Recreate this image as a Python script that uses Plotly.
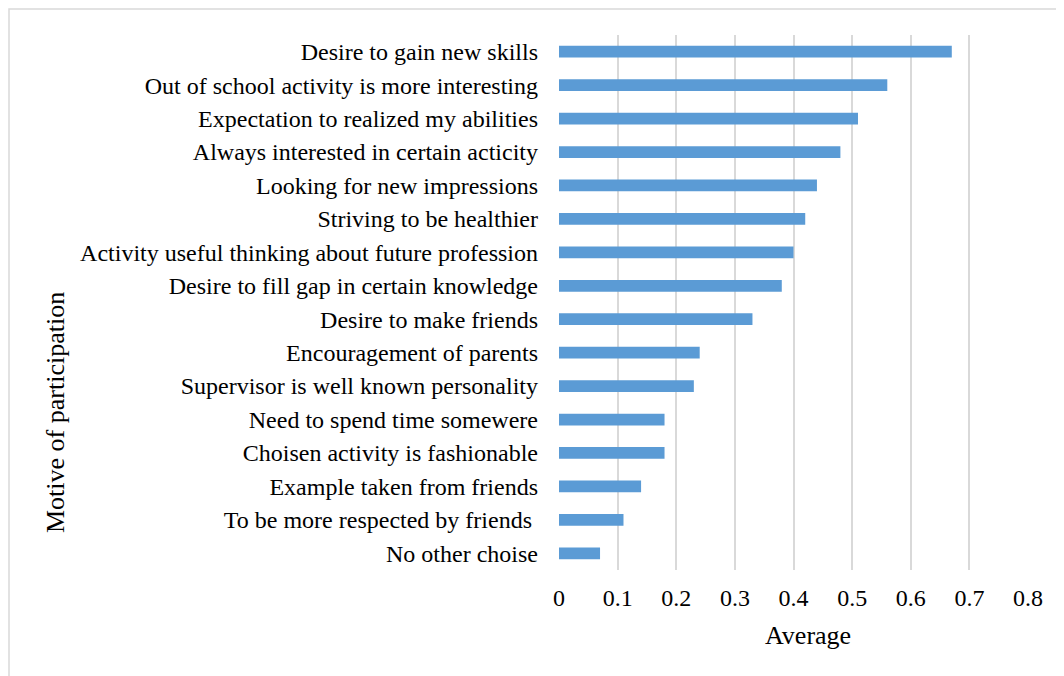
import plotly.graph_objects as go

categories = [
    "Desire to gain new skills",
    "Out of school activity is more interesting",
    "Expectation to realized my abilities",
    "Always interested in certain acticity",
    "Looking for new impressions",
    "Striving to be healthier",
    "Activity useful thinking about future profession",
    "Desire to fill gap in certain knowledge",
    "Desire to make friends",
    "Encouragement of parents",
    "Supervisor is well known personality",
    "Need to spend time somewere",
    "Choisen activity is fashionable",
    "Example taken from friends",
    "To be more respected by friends ",
    "No other choise",
]
averages = [0.67, 0.56, 0.51, 0.48, 0.44, 0.42, 0.40, 0.38, 0.33, 0.24, 0.23, 0.18, 0.18, 0.14, 0.11, 0.07]
x_ticks = [0, 0.1, 0.2, 0.3, 0.4, 0.5, 0.6, 0.7, 0.8]
x_tick_labels = ["0", "0.1", "0.2", "0.3", "0.4", "0.5", "0.6", "0.7", "0.8"]

FONT = "Liberation Serif, Times New Roman, serif"

W, H = 1056, 668
L, R, T, B = 551, 36, 27, 106
PW = W - L - R
PH = H - T - B


def px(xf):
    return (xf - L) / PW


def py(yf):
    return (H - B - yf) / PH


fig = go.Figure()
fig.add_trace(go.Bar(
    x=averages[::-1],
    y=categories[::-1],
    orientation="h",
    marker=dict(color="#5B9BD5", line=dict(width=0)),
    width=0.35,
))

fig.update_layout(
    width=W, height=H,
    margin=dict(l=L, r=R, t=T, b=B),
    paper_bgcolor="white", plot_bgcolor="white",
    font=dict(family=FONT, size=24, color="#000000"),
    showlegend=False,
    xaxis=dict(
        range=[0, 0.8], tickvals=x_ticks, ticktext=x_tick_labels,
        showgrid=True, gridcolor="#D9D9D9", gridwidth=1.5,
        zeroline=False, showline=False, ticks="",
        tickfont=dict(family=FONT, size=24, color="#000000"),
        ticklabelstandoff=11,
    ),
    yaxis=dict(
        showgrid=False, zeroline=False, showline=False, ticks="",
        tickfont=dict(family=FONT, size=24, color="#000000"),
        ticklabelstandoff=20,
    ),
    shapes=[dict(
        type="rect", xref="paper", yref="paper",
        x0=px(1), x1=px(W + 20),
        y0=py(H + 20), y1=py(1),
        line=dict(color="#D9D9D9", width=1.5), fillcolor="rgba(0,0,0,0)", layer="below",
    )],
    annotations=[
        dict(
            text="Motive of participation", textangle=-90,
            xref="paper", yref="paper",
            x=px(47), y=py(405),
            xanchor="center", yanchor="middle", showarrow=False,
            font=dict(family=FONT, size=26, color="#000000"),
        ),
        dict(
            text="Average",
            xref="paper", yref="paper",
            x=px(800), y=py(627),
            xanchor="center", yanchor="middle", showarrow=False,
            font=dict(family=FONT, size=26, color="#000000"),
        ),
    ],
)

fig.write_html("out.html")
